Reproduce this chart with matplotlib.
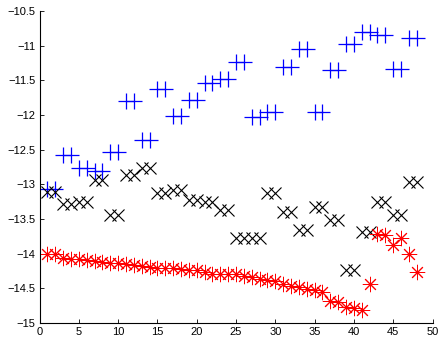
import matplotlib
matplotlib.use("Agg")
import matplotlib.pyplot as plt
from matplotlib.ticker import FixedLocator, FixedFormatter

plt.rcParams['font.family'] = ['Liberation Sans', 'DejaVu Sans']

x = list(range(1, 49))

blue = [-13.06, -13.06, -12.58, -12.58, -12.77, -12.77, -12.81, -12.81,
        -12.53, -12.53, -11.80, -11.80, -12.36, -12.36, -11.63, -11.63,
        -12.02, -12.02, -11.78, -11.78, -11.53, -11.53, -11.48, -11.48,
        -11.24, -11.24, -12.03, -12.03, -11.96, -11.96, -11.31, -11.31,
        -11.04, -11.04, -11.96, -11.96, -11.35, -11.35, -10.97, -10.97,
        -10.80, -10.80, -10.85, -10.85, -11.34, -11.34, -10.89, -10.89]

black = [-13.11, -13.11, -13.28, -13.28, -13.25, -13.25, -12.94, -12.94,
         -13.44, -13.44, -12.87, -12.87, -12.77, -12.77, -13.13, -13.13,
         -13.08, -13.08, -13.22, -13.22, -13.25, -13.25, -13.37, -13.37,
         -13.78, -13.78, -13.78, -13.78, -13.13, -13.13, -13.40, -13.40,
         -13.66, -13.66, -13.32, -13.32, -13.52, -13.52, -14.24, -14.24,
         -13.68, -13.68, -13.25, -13.25, -13.44, -13.44, -12.96, -12.96]

red = [-14.00, -14.00, -14.06, -14.07, -14.08, -14.09, -14.10, -14.12,
       -14.13, -14.14, -14.15, -14.17, -14.18, -14.19, -14.20, -14.20,
       -14.21, -14.22, -14.23, -14.24, -14.27, -14.29, -14.29, -14.30,
       -14.30, -14.32, -14.34, -14.36, -14.38, -14.40, -14.44, -14.46,
       -14.48, -14.51, -14.53, -14.55, -14.68, -14.70, -14.77, -14.79,
       -14.81, -14.43, -13.71, -13.73, -13.88, -13.78, -14.00, -14.26]

xticks = [0, 5, 10, 15, 20, 25, 30, 35, 40, 45, 50]
yticks = [-15, -14.5, -14, -13.5, -13, -12.5, -12, -11.5, -11, -10.5]
ytick_labels = ['\u221215', '\u221214.5', '\u221214', '\u221213.5', '\u221213',
                '\u221212.5', '\u221212', '\u221211.5', '\u221211', '\u221210.5']

fig = plt.figure(figsize=(4.4, 3.37), dpi=100)
ax = fig.add_axes([0.0898, 0.0415, 0.8932, 0.9255])

ax.plot(x, blue, linestyle='none', marker='+', markersize=11.5,
        markeredgewidth=0.9, color=(0, 0, 1))
ax.plot(x, black, linestyle='none', marker='x', markersize=8.5,
        markeredgewidth=0.8, color='black')
ax.plot(x, red, linestyle='none', marker=(8, 2, 0), markersize=11,
        markeredgewidth=0.7, color=(1, 0, 0))

ax.set_xlim(0, 50)
ax.set_ylim(-15, -10.5)
ax.xaxis.set_major_locator(FixedLocator(xticks))
ax.xaxis.set_major_formatter(FixedFormatter([str(t) for t in xticks]))
ax.yaxis.set_major_locator(FixedLocator(yticks))
ax.yaxis.set_major_formatter(FixedFormatter(ytick_labels))

for s in ['top', 'right']:
    ax.spines[s].set_visible(False)
for s in ['left', 'bottom']:
    ax.spines[s].set_linewidth(0.8)
ax.tick_params(direction='in', length=3, width=0.6, labelsize=8, pad=3)

fig.savefig('out.png', dpi=100)
